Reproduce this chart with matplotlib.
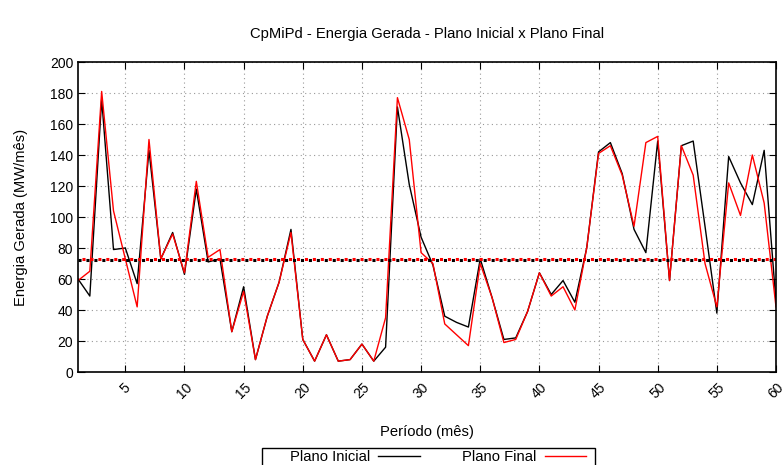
import matplotlib.pyplot as plt
from matplotlib.patches import Rectangle

plt.rcParams['font.family'] = ['Liberation Sans', 'DejaVu Sans']

meses = list(range(1, 61))

plano_inicial = [60, 49, 176, 79, 80, 57, 143, 73, 90, 63,
                 118, 71, 73, 26, 55, 8, 36, 58, 92, 21,
                 7, 24, 7, 8, 18, 7, 16, 171, 121, 87,
                 69, 36, 32, 29, 73, 48, 21, 22, 39, 64,
                 50, 59, 45, 80, 142, 148, 128, 92, 77, 149,
                 59, 146, 149, 94, 38, 139, 122, 108, 143, 45]

plano_final = [59, 65, 181, 104, 73, 42, 150, 73, 89, 64,
               123, 74, 79, 26, 52, 8, 36, 58, 90, 21,
               7, 24, 7, 8, 18, 7, 35, 177, 150, 77,
               70, 31, 24, 17, 70, 48, 19, 21, 39, 64,
               49, 55, 40, 80, 141, 146, 127, 94, 148, 152,
               59, 146, 127, 70, 42, 122, 101, 140, 109, 42]

media_inicial = 72.5
media_final = 72.7

fig = plt.figure(figsize=(7.83, 4.65), dpi=100)
ax = fig.add_axes([78 / 783, 1 - 372 / 465, 698 / 783, 310 / 465])

ax.plot(meses, plano_inicial, color='black', lw=1, label='Plano Inicial')
ax.plot(meses, plano_final, color='red', lw=1, label='Plano Final')
ax.axhline(media_inicial, color='black', lw=2.2, ls=(0, (1, 1.6)))
ax.axhline(media_final, color='red', lw=2.2, ls=(1.3, (1, 1.6)))

ax.set_xlim(1, 60)
ax.set_ylim(0, 200)
ax.set_xticks(range(5, 61, 5))
ax.set_yticks(range(0, 201, 20))
ax.tick_params(direction='in', top=True, right=True, labelsize=10, length=5)
ax.tick_params(axis='x', labelrotation=45, pad=6)
for lbl in ax.get_xticklabels():
    lbl.set_ha('center')
    lbl.set_va('top')
ax.grid(True, color='#999999', ls=(0, (1, 3)), lw=0.8)
for s in ax.spines.values():
    s.set_linewidth(1.2)

ax.set_title('CpMiPd - Energia Gerada - Plano Inicial x Plano Final', fontsize=10.6, pad=17)
ax.set_xlabel('Período (mês)', fontsize=10.6, labelpad=17)
ax.set_ylabel('Energia Gerada (MW/mês)', fontsize=10.6, labelpad=16)

# legend: frame drawn by hand, runs off the bottom edge like the original
leg = fig.legend(loc='upper left', bbox_to_anchor=(290 / 783, 1 - 450 / 465), ncol=2,
                 markerfirst=False, frameon=False, fontsize=10.6,
                 handlelength=2.8, handletextpad=0.55, columnspacing=2.9,
                 borderpad=0, borderaxespad=0)
fig.patches.append(Rectangle((262 / 783, -0.05), 333 / 783, 0.05 + 17 / 465,
                             transform=fig.transFigure, fill=False,
                             edgecolor='black', lw=1))

fig.savefig('out.png', dpi=100)
